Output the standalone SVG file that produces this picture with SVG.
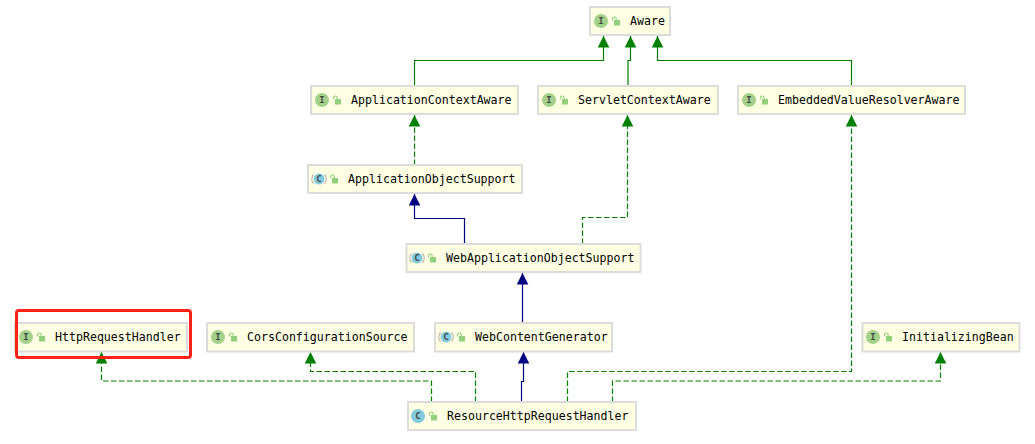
<svg xmlns="http://www.w3.org/2000/svg" width="1035" height="444" viewBox="0 0 1035 444">
<style>
.box{fill:#ffffe4;stroke:#dcdcdc;stroke-width:2}
.t{font-family:"DejaVu Sans Mono",monospace;font-size:11.6px;fill:#000}
.ii{fill:#a3d18c}.ci{fill:#85cbe0}
.par{fill:none;stroke:#b4b4b4;stroke-width:1.2}
.l{font-family:"DejaVu Sans Mono",monospace;font-size:9px;font-weight:bold;fill:#3f4a3f;text-anchor:middle}
.g{fill:none;stroke:#008000;stroke-width:1.2}
.d{fill:none;stroke:#008000;stroke-width:1.2;stroke-dasharray:5.500 2.500}
.b{fill:none;stroke:#000080;stroke-width:1.2}
</style>
<defs>
<marker id="ag" markerUnits="userSpaceOnUse" markerWidth="12" markerHeight="12" refX="11.500" refY="6" orient="auto"><path d="M0 0.200L11.500 6L0 11.800Z" fill="#008000"/></marker>
<marker id="ab" markerUnits="userSpaceOnUse" markerWidth="12" markerHeight="12" refX="11.500" refY="6" orient="auto"><path d="M0 0.200L11.500 6L0 11.800Z" fill="#000080"/></marker>
<g id="lock"><path d="M0.600 2.500V0.800a1.800 1.800 0 0 1 3.600 0V2" fill="none" stroke="#8fd07a" stroke-width="1.100"/><rect x="2" y="2" width="6" height="5.500" fill="#93d07e"/></g>
<g id="par"><path class="par" d="M-5.500 -4.500A7 7 0 0 0 -5.500 4.500M5.500 -4.500A7 7 0 0 1 5.500 4.500"/></g>
</defs>
<g id="connectors">
<path class="g" marker-end="url(#ag)" d="M414.500 86V60.500H603.500V36"/>
<path class="g" marker-end="url(#ag)" d="M628 86V60.500H630.500V36"/>
<path class="g" marker-end="url(#ag)" d="M851.500 86V60.500H657.500V36"/>
<path class="d" marker-end="url(#ag)" d="M414.500 165V115"/>
<path class="d" marker-end="url(#ag)" d="M582.500 244V217.500H627.500V115"/>
<path class="b" marker-end="url(#ab)" d="M464.500 244V218.500H414.500V194"/>
<path class="b" marker-end="url(#ab)" d="M522.500 323V273"/>
<path class="d" marker-end="url(#ag)" d="M431.500 402V381H101.500V352"/>
<path class="d" marker-end="url(#ag)" d="M475.500 402V371.500H310.500V352"/>
<path class="b" marker-end="url(#ab)" d="M521.500 402V381.500H523.500V352"/>
<path class="d" marker-end="url(#ag)" d="M567.500 402V371.500H851.500V115"/>
<path class="d" marker-end="url(#ag)" d="M612.500 402V381H940.500V352"/>
</g>
<g id="n-aware"><rect class="box" x="590" y="7" width="80" height="28"/><circle class="ii" cx="601" cy="21" r="7"/><text class="l" x="601" y="24">I</text><use href="#lock" x="612" y="18"/><text class="t" x="630" y="25">Aware</text></g>
<g id="n-aca"><rect class="box" x="311" y="86" width="207" height="28"/><circle class="ii" cx="322" cy="100" r="7"/><text class="l" x="322" y="103">I</text><use href="#lock" x="333" y="97"/><text class="t" x="351" y="104">ApplicationContextAware</text></g>
<g id="n-sca"><rect class="box" x="538" y="86" width="180" height="28"/><circle class="ii" cx="549" cy="100" r="7"/><text class="l" x="549" y="103">I</text><use href="#lock" x="560" y="97"/><text class="t" x="578" y="104">ServletContextAware</text></g>
<g id="n-evra"><rect class="box" x="738" y="86" width="227" height="28"/><circle class="ii" cx="749" cy="100" r="7"/><text class="l" x="749" y="103">I</text><use href="#lock" x="760" y="97"/><text class="t" x="778" y="104">EmbeddedValueResolverAware</text></g>
<g id="n-aos"><rect class="box" x="308" y="165" width="214" height="28"/><circle class="ci" cx="319" cy="179" r="5.500"/><use href="#par" x="319" y="179"/><text class="l" x="319" y="182">C</text><use href="#lock" x="330" y="176"/><text class="t" x="348" y="183">ApplicationObjectSupport</text></g>
<g id="n-waos"><rect class="box" x="406.500" y="244" width="234" height="28"/><circle class="ci" cx="417" cy="258" r="5.500"/><use href="#par" x="417" y="258"/><text class="l" x="417" y="261">C</text><use href="#lock" x="428" y="255"/><text class="t" x="446" y="262">WebApplicationObjectSupport</text></g>
<g id="n-hrh"><rect class="box" x="15" y="323" width="172" height="28.500"/><circle class="ii" cx="26" cy="337" r="7"/><text class="l" x="26" y="340">I</text><use href="#lock" x="37" y="334"/><text class="t" x="55" y="341">HttpRequestHandler</text></g>
<g id="n-ccs"><rect class="box" x="207" y="323" width="207" height="28.500"/><circle class="ii" cx="218" cy="337" r="7"/><text class="l" x="218" y="340">I</text><use href="#lock" x="229" y="334"/><text class="t" x="247" y="341">CorsConfigurationSource</text></g>
<g id="n-wcg"><rect class="box" x="435" y="323" width="177" height="28.500"/><circle class="ci" cx="446" cy="337" r="5.500"/><use href="#par" x="446" y="337"/><text class="l" x="446" y="340">C</text><use href="#lock" x="457" y="334"/><text class="t" x="475" y="341">WebContentGenerator</text></g>
<g id="n-ib"><rect class="box" x="862.500" y="323" width="157" height="28.500"/><circle class="ii" cx="873" cy="337" r="7"/><text class="l" x="873" y="340">I</text><use href="#lock" x="884" y="334"/><text class="t" x="902" y="341">InitializingBean</text></g>
<g id="n-rhrh"><rect class="box" x="408" y="402" width="228" height="28"/><circle class="ci" cx="418" cy="416" r="7"/><text class="l" x="418" y="419">C</text><use href="#lock" x="429" y="413"/><text class="t" x="447" y="420">ResourceHttpRequestHandler</text></g>
<rect id="highlight" x="16.500" y="310.500" width="174" height="47" rx="2.500" fill="none" stroke="#ff2016" stroke-width="3"/>
</svg>
